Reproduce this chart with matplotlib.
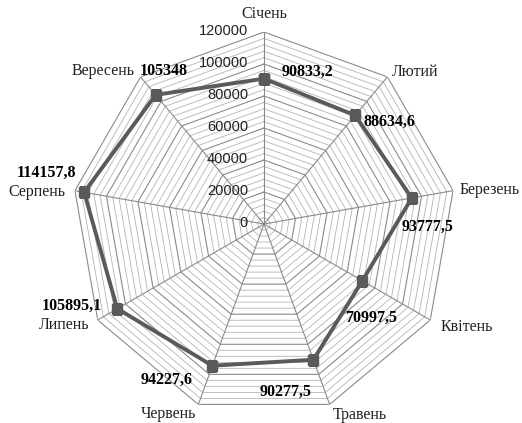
import numpy as np
import matplotlib
matplotlib.use("Agg")
import matplotlib.pyplot as plt

categories = ["Січень", "Лютий", "Березень", "Квітень", "Травень",
              "Червень", "Липень", "Серпень", "Вересень"]
values = [90833.2, 88634.6, 93777.5, 70997.5, 90277.5,
          94227.6, 105895.1, 114157.8, 105348]
value_labels = ["90833,2", "88634,6", "93777,5", "70997,5", "90277,5",
                "94227,6", "105895,1", "114157,8", "105348"]
tick_values = [0, 20000, 40000, 60000, 80000, 100000, 120000]
tick_labels = ["0", "20000", "40000", "60000", "80000", "100000", "120000"]
minor_step = 4000
rmax = 120000

# label offsets (pixels) relative to the markers / outer vertices
val_offsets = [(43, 7), (34, -7), (16, -29), (9, -37), (-28, -32),
               (-46, -14), (-45, 3), (-38, 19), (8, 24)]
cat_offsets = [(0, 18), (28, 5), (37, 1), (37, -7), (30, -11),
               (-30, -10), (-34, -5), (-38, -1), (-37, 6)]

W, H = 522, 423
fig = plt.figure(figsize=(W / 100, H / 100), dpi=100)
cx, cy, R = 264, 224, 192
ax = fig.add_axes([(cx - R) / W, (H - cy - R) / H, 2 * R / W, 2 * R / H],
                  projection="polar")
ax.set_theta_zero_location("N")
ax.set_theta_direction(-1)
ax.set_ylim(0, rmax)
ax.grid(False)
ax.set_xticks([])
ax.set_yticks([])
ax.spines["polar"].set_visible(False)
ax.patch.set_alpha(0)

n = len(categories)
theta = np.arange(n) * 2 * np.pi / n
theta_c = np.append(theta, theta[0])

# polygon grid
for r in np.arange(minor_step, rmax + 1, minor_step):
    major = (r % 20000 == 0)
    ax.plot(theta_c, [r] * (n + 1),
            color="#8a8a8a" if major else "#b4b4b4",
            lw=0.8 if major else 0.6, zorder=1)
for t in theta:
    ax.plot([t, t], [0, rmax], color="#8a8a8a", lw=0.8, zorder=1)

vals_c = values + [values[0]]
ax.plot(theta_c, vals_c, color="#5a5a5a", lw=2.8, marker="s",
        markersize=6.5, zorder=3)

serif = ["Liberation Serif", "DejaVu Serif"]
for t, v, lab, off in zip(theta, values, value_labels, val_offsets):
    ax.annotate(lab, (t, v), xytext=off, textcoords="offset pixels",
                ha="center", va="center", fontsize=11.5, fontweight="bold",
                family=serif, color="black", zorder=4)
for t, lab, off in zip(theta, categories, cat_offsets):
    ax.annotate(lab, (t, rmax), xytext=off, textcoords="offset pixels",
                ha="center", va="center", fontsize=11.5, family=serif,
                color="#222222", annotation_clip=False)
for tv, tl in zip(tick_values, tick_labels):
    ax.annotate(tl, (0, tv), xytext=(-16, 1), textcoords="offset pixels",
                ha="right", va="center", fontsize=10.5,
                family=["Liberation Sans", "DejaVu Sans"], color="#222222",
                annotation_clip=False)

fig.savefig("out.png", dpi=100, facecolor="white")
